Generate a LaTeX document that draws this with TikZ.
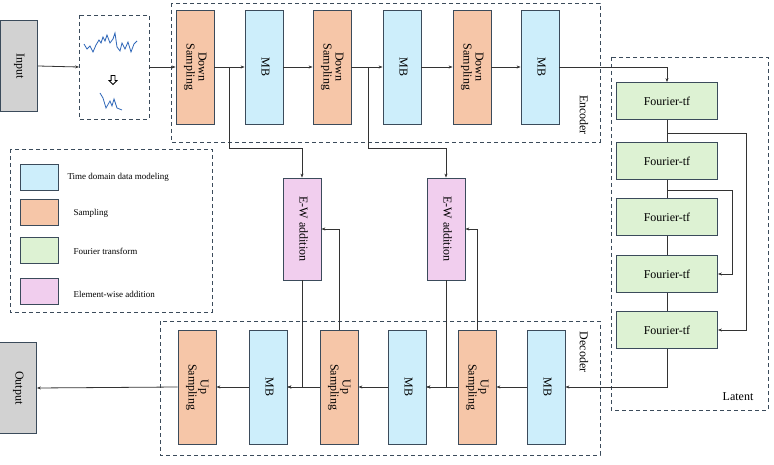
\documentclass[tikz,border=0pt]{standalone}
\usepackage{fontspec}
\setmainfont{Liberation Serif}
\usetikzlibrary{arrows.meta, calc, shapes.arrows}
\definecolor{mbblue}{HTML}{CDEEFB}
\definecolor{sporange}{HTML}{F6C6A8}
\definecolor{ftgreen}{HTML}{DDF2D3}
\definecolor{ewpink}{HTML}{F1CEEE}
\definecolor{iogray}{HTML}{D2D2D2}
\definecolor{edge}{HTML}{3B4B5B}
\definecolor{wave}{HTML}{2F67B8}
\newcommand{\rot}[1]{\rotatebox[origin=c]{-90}{\begin{tabular}{@{}c@{}}#1\end{tabular}}}
\tikzset{
  blk/.style={draw=edge, thick, inner sep=0pt, font=\fontsize{12}{12}\selectfont},
  vblk/.style={blk, minimum width=38pt, minimum height=114pt},
  mb/.style={vblk, fill=mbblue},
  smp/.style={vblk, fill=sporange},
  ft/.style={blk, fill=ftgreen, minimum width=101pt, minimum height=37pt},
  ew/.style={blk, fill=ewpink, minimum width=38pt, minimum height=102pt},
  io/.style={blk, fill=iogray, minimum width=37pt, minimum height=91pt},
  grp/.style={draw=edge, thick, dash pattern=on 4pt off 3pt},
  sw/.style={draw=edge, thick, minimum width=38pt, minimum height=26pt},
  lg/.style={font=\fontsize{9}{9}\selectfont, anchor=west},
  >={Stealth[length=4pt,width=3pt]},
  con/.style={->, thick, color=black!80}
}
\begin{document}
\begin{tikzpicture}[x=1pt, y=-1pt]
	\useasboundingbox (0,0) rectangle (774,465);

	% groups
	\draw [grp] (171,3) rectangle (600,142);
	\draw [grp] (160,321) rectangle (600,455);
	\draw [grp] (611,57) rectangle (768,410);
	\draw [grp] (10,149) rectangle (212,312);
	\draw [grp] (79,15) rectangle (149,119);
	\node [rotate=-90, font=\fontsize{12}{12}\selectfont] (enc) at (584,115) {Encoder};
	\node [rotate=-90, font=\fontsize{12}{12}\selectfont] (dec) at (584,352) {Decoder};
	\node [font=\fontsize{12}{12}\selectfont] (lat) at (738,397) {Latent};

	% signal sketch
	\draw [wave, thick] (84,44) -- (87,49) -- (90,46) -- (93,52) -- (96,45) -- (99,40) -- (101,43) -- (103,37) -- (105,41) -- (107,35) -- (110,43) -- (113,39) -- (115,33) -- (117,47) -- (120,51) -- (122,43) -- (125,49) -- (128,42) -- (131,52) -- (134,44) -- (137,41);
	\node [draw=black, thick, single arrow, single arrow head extend=2pt, shape border rotate=270, minimum height=9pt, inner sep=1.5pt] (darr) at (113,79) {};
	\draw [wave, thick] (100,93) -- (103,98) -- (106,108) -- (110,101) -- (112,106) -- (114,99) -- (117,108) -- (122,110);

	% encoder
	\node [io] (in) at (19,66) {\rot{Input}};
	\node [smp] (ds1) at (195,67) {\rot{Down\\Sampling}};
	\node [mb]  (mb1) at (264,67) {\rot{MB}};
	\node [smp] (ds2) at (332,67) {\rot{Down\\Sampling}};
	\node [mb]  (mb2) at (402,67) {\rot{MB}};
	\node [smp] (ds3) at (472,67) {\rot{Down\\Sampling}};
	\node [mb]  (mb3) at (540,67) {\rot{MB}};
	\coordinate (bx) at (79,67);
	\coordinate (bxr) at (149,67);

	\draw [con] (in.east) -- (bx);
	\draw [con] (bxr) -- (ds1.west);
	\draw [con] (ds1) -- (mb1);
	\draw [con] (mb1) -- (ds2);
	\draw [con] (ds2) -- (mb2);
	\draw [con] (mb2) -- (ds3);
	\draw [con] (ds3) -- (mb3);

	% latent
	\node [ft] (f1) at (667,101) {Fourier-tf};
	\node [ft] (f2) at (667,161) {Fourier-tf};
	\node [ft] (f3) at (667,217) {Fourier-tf};
	\node [ft] (f4) at (667,274) {Fourier-tf};
	\node [ft] (f5) at (667,330) {Fourier-tf};
	\draw [con] (mb3.east) -| (f1.north);
	\draw [thick, black!80] (f1) -- (f2) -- (f3) -- (f4) -- (f5);
	\coordinate (k1) at (746,133);
	\coordinate (k2) at (732,190);
	\draw [con] (f1.south |- k1) -- (k1) |- (f5.east);
	\draw [con] (f2.south |- k2) -- (k2) |- (f4.east);

	% decoder
	\node [smp] (us1) at (197,387) {\rot{Up\\Sampling}};
	\node [mb]  (md1) at (268,387) {\rot{MB}};
	\node [smp] (us2) at (339,387) {\rot{Up\\Sampling}};
	\node [mb]  (md2) at (407,387) {\rot{MB}};
	\node [smp] (us3) at (477,387) {\rot{Up\\Sampling}};
	\node [mb]  (md3) at (546,387) {\rot{MB}};
	\node [io] (out) at (18,388) {\rot{Output}};
	\draw [con] (f5.south) |- (md3.east);
	\draw [con] (md3) -- (us3);
	\draw [con] (us3) -- (md2);
	\draw [con] (md2) -- (us2);
	\draw [con] (us2) -- (md1);
	\draw [con] (md1) -- (us1);
	\draw [con] (us1.west) -- (out.east);

	% element-wise additions
	\node [ew] (ew1) at (302,229) {\rot{E-W addition}};
	\node [ew] (ew2) at (446,229) {\rot{E-W addition}};
	\coordinate (s1) at (229,148);
	\coordinate (s2) at (368,148);
	\draw [con] (ds1.east -| s1) -- (s1) -| (ew1.north);
	\draw [con] (ds2.east -| s2) -- (s2) -| (ew2.north);
	\draw [con] (ew1.south) |- (md1.east);
	\draw [con] (ew2.south) |- (md2.east);
	\draw [con] (us2.north) |- (ew1.east);
	\draw [con] (us3.north) |- (ew2.east);

	% legend
	\node [sw, fill=mbblue]   (l1) at (39,177) {};
	\node [sw, fill=sporange] (l2) at (39,212) {};
	\node [sw, fill=ftgreen]  (l3) at (39,250) {};
	\node [sw, fill=ewpink]   (l4) at (39,291) {};
	\node [lg] (t1) at (64,177) {Time domain data modeling};
	\node [lg] (t2) at (70,213) {Sampling};
	\node [lg] (t3) at (70,251) {Fourier transform};
	\node [lg] (t4) at (70,294) {Element-wise addition};
\end{tikzpicture}
\end{document}
